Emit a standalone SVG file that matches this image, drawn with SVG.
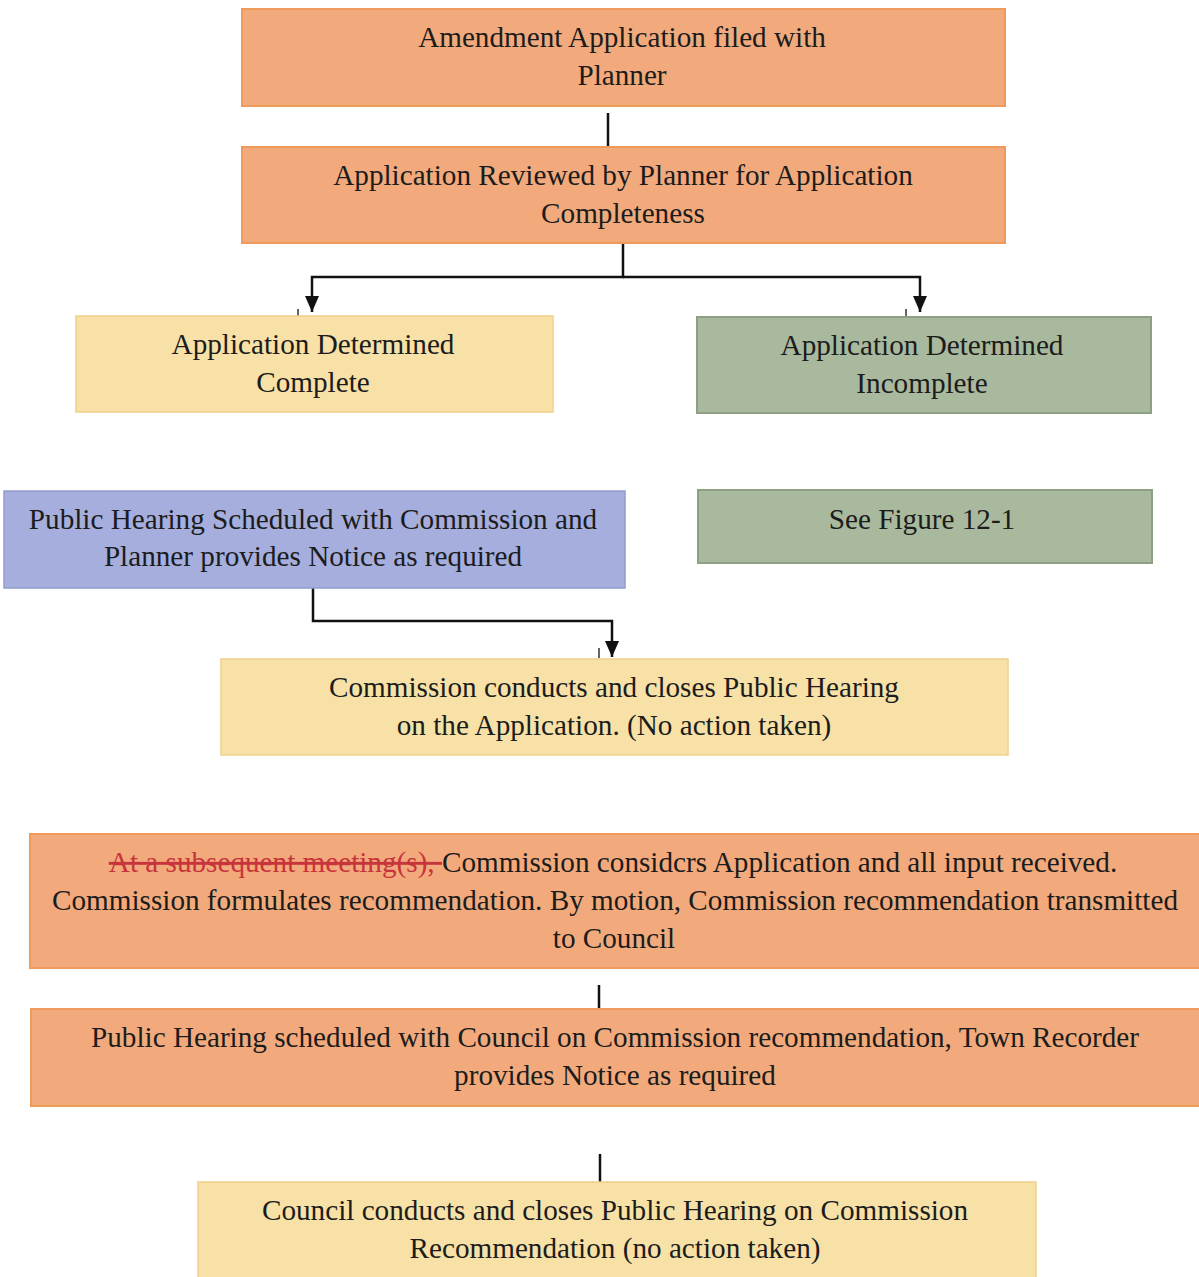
<svg xmlns="http://www.w3.org/2000/svg" width="1199" height="1277" viewBox="0 0 1199 1277">
<defs>
<marker id="ah" markerWidth="16" markerHeight="14" refX="16" refY="7" orient="auto" markerUnits="userSpaceOnUse" viewBox="0 0 16 14">
<path d="M0,0 L16,7 L0,14 Z" fill="#111"/>
</marker>
<style>
.t{font-family:"Liberation Serif","Times New Roman",serif;font-size:29.2px;fill:#1c1c1c;text-anchor:middle}
.or{fill:#F2AA7C;stroke:#EE9A5A;stroke-width:2}
.ye{fill:#F7E1A6;stroke:#F0D08A;stroke-width:1.5}
.gr{fill:#A8B99D;stroke:#8EA083;stroke-width:2}
.bl{fill:#A5AEDC;stroke:#929CCD;stroke-width:1.5}
.c{fill:none;stroke:#111;stroke-width:2.5}
.k{fill:none;stroke:#333;stroke-width:1.5}
.red{fill:#C8343C}
</style>
</defs>
<rect width="1199" height="1277" fill="#fff"/>
<g id="connectors">
<line class="c" x1="608" y1="113" x2="608" y2="146"/>
<polyline class="c" points="623,243 623,277 312,277 312,312" marker-end="url(#ah)"/>
<polyline class="c" points="623,277 920,277 920,312" marker-end="url(#ah)"/>
<line class="k" x1="298" y1="309" x2="298" y2="316"/>
<line class="k" x1="906" y1="309" x2="906" y2="316"/>
<polyline class="c" points="313,588 313,621 612,621 612,657" marker-end="url(#ah)"/>
<line class="k" x1="599" y1="648" x2="599" y2="658"/>
<line class="c" x1="599" y1="985" x2="599" y2="1008"/>
<line class="c" x1="600" y1="1154" x2="600" y2="1182"/>
</g>
<g id="n1">
<rect class="or" x="242" y="9" width="763" height="97"/>
<text class="t" x="622" y="47">Amendment Application filed with</text>
<text class="t" x="622" y="85">Planner</text>
</g>
<g id="n2">
<rect class="or" x="242" y="147" width="763" height="96"/>
<text class="t" x="623" y="185">Application Reviewed by Planner for Application</text>
<text class="t" x="623" y="223">Completeness</text>
</g>
<g id="n3">
<rect class="ye" x="76" y="316" width="477" height="96"/>
<text class="t" x="313" y="354">Application Determined</text>
<text class="t" x="313" y="392">Complete</text>
</g>
<g id="n4">
<rect class="gr" x="697" y="317" width="454" height="96"/>
<text class="t" x="922" y="355">Application Determined</text>
<text class="t" x="922" y="393">Incomplete</text>
</g>
<g id="n5">
<rect class="bl" x="4" y="491" width="621" height="97"/>
<text class="t" x="313" y="529">Public Hearing Scheduled with Commission and</text>
<text class="t" x="313" y="566">Planner provides Notice as required</text>
</g>
<g id="n6">
<rect class="gr" x="698" y="490" width="454" height="73"/>
<text class="t" x="922" y="529">See Figure 12-1</text>
</g>
<g id="n7">
<rect class="ye" x="221" y="659" width="787" height="96"/>
<text class="t" x="614" y="697">Commission conducts and closes Public Hearing</text>
<text class="t" x="614" y="735">on the Application. (No action taken)</text>
</g>
<g id="n8">
<rect class="or" x="30" y="834" width="1175" height="134"/>
<text class="t" x="613" y="872"><tspan class="red" text-decoration="line-through">At a subsequent meeting(s), </tspan>Commission considcrs Application and all input received.</text>
<text class="t" x="615" y="910">Commission formulates recommendation. By motion, Commission recommendation transmitted</text>
<text class="t" x="614" y="948">to Council</text>
</g>
<g id="n9">
<rect class="or" x="31" y="1009" width="1175" height="97"/>
<text class="t" x="615" y="1047">Public Hearing scheduled with Council on Commission recommendation, Town Recorder</text>
<text class="t" x="615" y="1085">provides Notice as required</text>
</g>
<g id="n10">
<rect class="ye" x="198" y="1182" width="838" height="100"/>
<text class="t" x="615" y="1220">Council conducts and closes Public Hearing on Commission</text>
<text class="t" x="615" y="1258">Recommendation (no action taken)</text>
</g>
</svg>
